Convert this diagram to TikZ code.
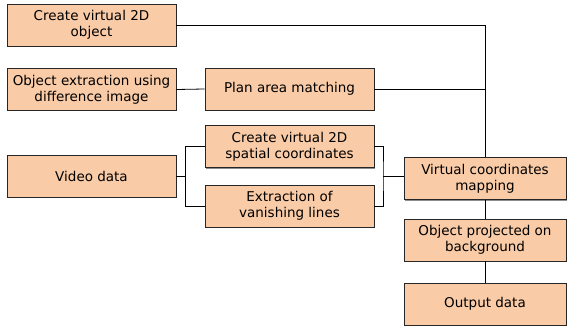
\documentclass[tikz,border=0pt]{standalone}
\usepackage{fontspec}
\setmainfont{DejaVu Sans}
\usetikzlibrary{shadows}
\definecolor{boxfill}{HTML}{F9CBA6}

\begin{document}
\begin{tikzpicture}[x=1pt,y=-1pt,
	box/.style={draw=black!85,fill=boxfill,line width=0.8pt,align=center,inner sep=0pt,
		minimum width=169pt,minimum height=42pt,font=\fontsize{13.5}{16}\selectfont,
		drop shadow={shadow xshift=1pt,shadow yshift=-1pt,fill=black!45,opacity=1}},
	link/.style={line width=0.8pt,black}]
				\useasboundingbox (0,0) rectangle (567,326);
				% left column
				\node[box] (obj2d) at (91.5,25) {Create virtual 2D\\object};
				\node[box] (extract) at (91.5,89.5) {Object extraction using\\difference image};
				\node[box] (video) at (91.5,176) {Video data};
				% middle column
				\node[box] (plan) at (289.5,89) {Plan area matching};
				\node[box] (spatial) at (289.5,146.5) {Create virtual 2D\\spatial coordinates};
				\node[box] (vanish) at (289.5,206) {Extraction of\\vanishing lines};
				% right column
				\node[box,minimum width=162pt] (vcm) at (485,178.5) {Virtual coordinates\\mapping};
				\node[box,minimum width=162pt] (proj) at (485,240) {Object projected on\\background};
				\node[box,minimum width=162pt] (out) at (485,304) {Output data};
				\coordinate (rb) at (383,176);
				% connectors
				\draw[link] (obj2d.east) -| (vcm.north);
				\draw[link] (extract.east) -- (plan.west);
				\draw[link] (plan.east) -- (plan.east -| vcm.north);
				\draw[link] (video.east) -- ++(9,0) |- (spatial.west);
				\draw[link] (video.east) -- ++(9,0) |- (vanish.west);
				\draw[link] (spatial.east) -| (rb) |- (vanish.east);
				\draw[link] (rb) -- (rb -| vcm.west);
				\draw[link] (vcm.south) -- (proj.north);
				\draw[link] (proj.south) -- (out.north);
			\end{tikzpicture}
\end{document}
